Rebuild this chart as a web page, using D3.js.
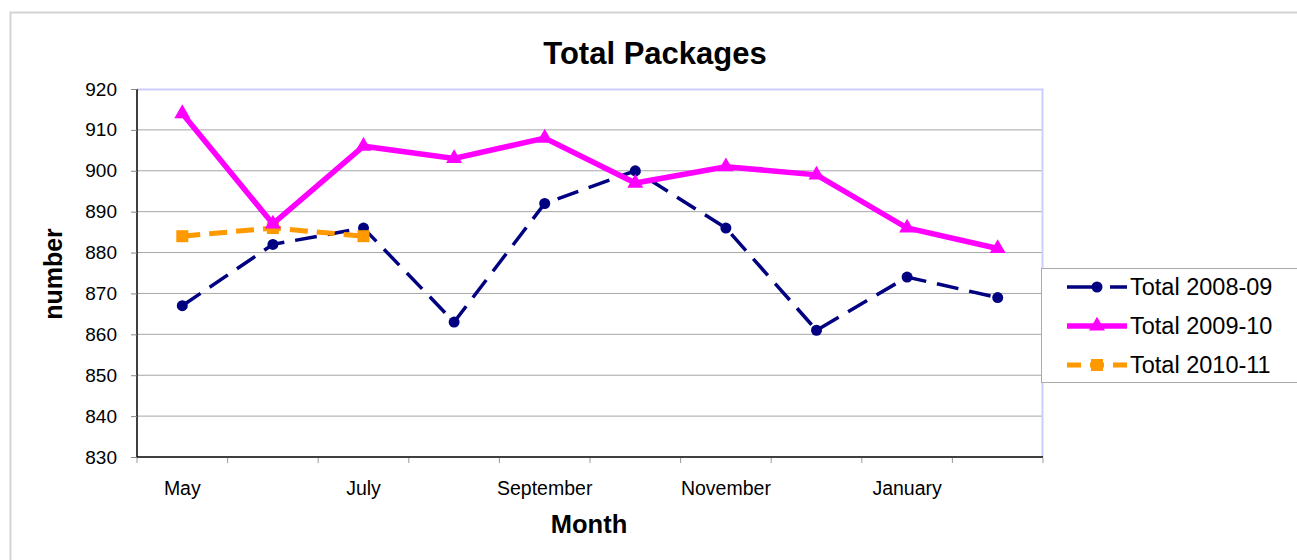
<!DOCTYPE html>
<html>
<head>
    <meta charset="utf-8">
    <title>Total Packages</title>
    <script src="https://d3js.org/d3.v7.min.js"></script>
    <style>
        body { margin: 0; background: #fff; }
        svg { font-family: "Liberation Sans", Arial, sans-serif; }
    </style>
</head>
<body>
    <svg width="1297" height="560" id="chart"></svg>
    <script>
        const months = ["May", "June", "July", "August", "September", "October", "November", "December", "January", "February"]
        const total0809 = [867, 882, 886, 863, 892, 900, 886, 861, 874, 869]
        const total0910 = [914, 887, 906, 903, 908, 897, 901, 899, 886, 881]
        const total1011 = [884, 886, 884]
        const yTicks = [830, 840, 850, 860, 870, 880, 890, 900, 910, 920]
        const seriesNames = ["Total 2008-09", "Total 2009-10", "Total 2010-11"]

        const svg = d3.select("#chart")
        const margin = { top: 89, left: 137, right: 254, bottom: 103 }
        const innerWidth = 1297 - margin.left - margin.right
        const innerHeight = 560 - margin.top - margin.bottom

        // outer chart frame
        svg.append("rect")
            .attr("x", 10.5).attr("y", 12.5)
            .attr("width", 1300).attr("height", 600)
            .attr("fill", "none").attr("stroke", "#d4d4d4").attr("stroke-width", 2)

        const x = d3.scaleBand().domain(months).range([0, innerWidth])
        const y = d3.scaleLinear().domain([830, 920]).range([innerHeight, 0])

        const g = svg.append("g").attr("transform", `translate(${margin.left},${margin.top})`)

        // gridlines
        g.selectAll(".grid").data(yTicks.slice(1, -1)).enter().append("line")
            .attr("x1", 0).attr("x2", innerWidth)
            .attr("y1", d => y(d)).attr("y2", d => y(d))
            .attr("stroke", "#a6a6a6").attr("stroke-width", 1)

        // plot area top / right border
        g.append("path")
            .attr("d", `M0,0.5H${innerWidth - 0.5}V${innerHeight}`)
            .attr("fill", "none").attr("stroke", "#ccccff").attr("stroke-width", 2)

        // y axis
        const yAxis = g.append("g")
            .call(d3.axisLeft(y).tickValues(yTicks).tickSize(6).tickPadding(14))
        yAxis.select(".domain").attr("stroke", "#000").attr("stroke-width", 1.5).attr("d", `M0,0V${innerHeight}`)
        yAxis.selectAll(".tick line").attr("stroke", "#888")
        yAxis.selectAll("text").attr("font-size", 19).attr("fill", "#000")
            .attr("font-family", "Liberation Sans, Arial, sans-serif")

        // x axis: ticks at category boundaries, labels every other month
        const xg = g.append("g").attr("transform", `translate(0,${innerHeight})`)
        xg.append("line").attr("x1", 0).attr("x2", innerWidth)
            .attr("stroke", "#000").attr("stroke-width", 1.5)
        xg.selectAll(".xt").data(d3.range(months.length + 1)).enter().append("line")
            .attr("x1", i => i * x.step()).attr("x2", i => i * x.step())
            .attr("y1", 1).attr("y2", 6)
            .attr("stroke", "#999")
        xg.selectAll(".xl").data(months.filter((m, i) => i % 2 === 0)).enter().append("text")
            .attr("x", d => x(d) + x.bandwidth() / 2)
            .attr("y", 38)
            .attr("text-anchor", "middle")
            .attr("font-size", 19.5)
            .text(d => d)

        const line = d3.line()
            .x((d, i) => x(months[i]) + x.bandwidth() / 2)
            .y(d => y(d))

        // 2008-09 navy dashed with circles
        g.append("path").datum(total0809).attr("d", line)
            .attr("fill", "none").attr("stroke", "#000080").attr("stroke-width", 3.5)
            .attr("stroke-dasharray", "22,11")
        g.selectAll(".c").data(total0809).enter().append("circle")
            .attr("cx", (d, i) => x(months[i]) + x.bandwidth() / 2)
            .attr("cy", d => y(d)).attr("r", 5.5).attr("fill", "#000080")

        // 2010-11 orange dashed with squares
        g.append("path").datum(total1011).attr("d", line)
            .attr("fill", "none").attr("stroke", "#ff9900").attr("stroke-width", 5)
            .attr("stroke-dasharray", "18,9")
        g.selectAll(".s").data(total1011).enter().append("rect")
            .attr("x", (d, i) => x(months[i]) + x.bandwidth() / 2 - 6)
            .attr("y", d => y(d) - 6).attr("width", 12).attr("height", 12)
            .attr("fill", "#ff9900")

        // 2009-10 magenta solid with triangles
        g.append("path").datum(total0910).attr("d", line)
            .attr("fill", "none").attr("stroke", "#ff00ff").attr("stroke-width", 5.5)
        const tri = d3.symbol().type(d3.symbolTriangle).size(110)
        g.selectAll(".t").data(total0910).enter().append("path")
            .attr("d", tri)
            .attr("transform", (d, i) => `translate(${x(months[i]) + x.bandwidth() / 2},${y(d)})`)
            .attr("fill", "#ff00ff")

        // title and axis titles
        svg.append("text").attr("x", 655).attr("y", 64).attr("text-anchor", "middle")
            .attr("font-size", 31).attr("font-weight", "bold").text("Total Packages")
        svg.append("text").attr("x", 589).attr("y", 533).attr("text-anchor", "middle")
            .attr("font-size", 25.5).attr("font-weight", "bold").text("Month")
        svg.append("text").attr("transform", "translate(62,274) rotate(-90)")
            .attr("text-anchor", "middle")
            .attr("font-size", 25).attr("font-weight", "bold").text("number")

        // legend
        const lg = svg.append("g").attr("transform", "translate(1041,268)")
        lg.append("rect").attr("x", 0.5).attr("y", 0.5).attr("width", 300).attr("height", 114)
            .attr("fill", "#fff").attr("stroke", "#aaa")
        const styles = [
            { color: "#000080", width: 3.5, dash: "32,11" },
            { color: "#ff00ff", width: 5.5, dash: null },
            { color: "#ff9900", width: 5, dash: "14,9" }
        ]
        seriesNames.forEach((name, i) => {
            const row = lg.append("g").attr("transform", `translate(0,${19 + i * 39})`)
            row.append("line").attr("x1", 26).attr("x2", 86)
                .attr("stroke", styles[i].color).attr("stroke-width", styles[i].width)
                .attr("stroke-dasharray", styles[i].dash)
            if (i === 0) row.append("circle").attr("cx", 56).attr("r", 5.5).attr("fill", styles[i].color)
            if (i === 1) row.append("path").attr("d", tri).attr("transform", "translate(56,0)").attr("fill", styles[i].color)
            if (i === 2) row.append("rect").attr("x", 50).attr("y", -6).attr("width", 12).attr("height", 12).attr("fill", styles[i].color)
            row.append("text").attr("x", 89).attr("y", 8).attr("font-size", 23.5).text(name)
        })
    </script>
</body>
</html>
